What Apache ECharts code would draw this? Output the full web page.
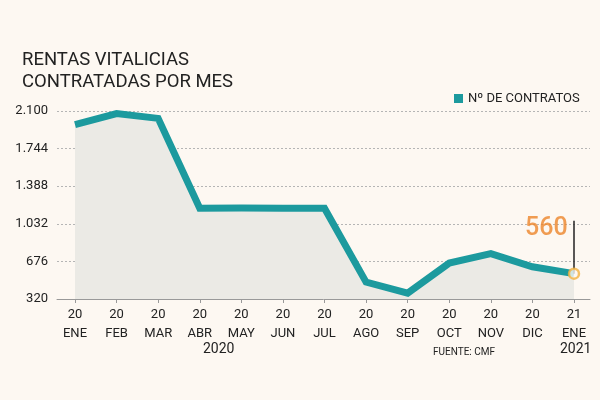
<!DOCTYPE html>
<html>
<head>
<meta charset="utf-8">
<script src="https://cdn.jsdelivr.net/npm/echarts@6/dist/echarts.min.js"></script>
<style>
  html, body { margin: 0; padding: 0; background: #fdf8f2; }
  #main { width: 600px; height: 400px; }
</style>
</head>
<body>
<div id="main"></div>
<script>
// datos
const years = ['20', '20', '20', '20', '20', '20', '20', '20', '20', '20', '20', '20', '21'];
const months = ['ENE', 'FEB', 'MAR', 'ABR', 'MAY', 'JUN', 'JUL', 'AGO', 'SEP', 'OCT', 'NOV', 'DIC', 'ENE'];
const contratos = [1970, 2075, 2030, 1180, 1182, 1180, 1180, 480, 375, 660, 750, 625, 560];
const yTicks = [320, 676, 1032, 1388, 1744, 2100];

const font = "Roboto, 'Liberation Sans', sans-serif";
const teal = '#1c9a9e';

let myChart = echarts.init(document.getElementById('main'));

const lastIdx = contratos.length - 1;
const lineData = contratos.map((v, i) => [i, v]);

let option = {
  backgroundColor: '#fdf8f2',
  textStyle: { fontFamily: font },
  title: {
    text: 'RENTAS VITALICIAS\nCONTRATADAS POR MES',
    left: 17,
    top: 44,
    textStyle: { fontFamily: font, fontSize: 18.5, fontWeight: 'normal', color: '#222', lineHeight: 22 }
  },
  legend: {
    data: ['Nº DE CONTRATOS'],
    left: 449,
    top: 87,
    icon: 'rect',
    itemWidth: 9,
    itemHeight: 9,
    itemGap: 6,
    textStyle: { fontFamily: font, fontSize: 13, color: '#222' }
  },
  grid: { left: 57, right: 10, top: 111, bottom: 101 },
  xAxis: {
    type: 'value',
    min: -0.433,
    max: 12.385,
    splitLine: { show: false },
    axisLine: { lineStyle: { color: '#999', width: 1 } },
    axisTick: { customValues: years.map((y, i) => i), length: 4, lineStyle: { color: '#999' } },
    axisLabel: {
      customValues: years.map((y, i) => i),
      formatter: v => years[v] + '\n' + months[v],
      fontFamily: font, fontSize: 13, color: '#222', lineHeight: 19, margin: 6
    }
  },
  yAxis: {
    type: 'value',
    min: yTicks[0],
    max: yTicks[yTicks.length - 1],
    interval: yTicks[1] - yTicks[0],
    axisLine: { show: false },
    axisTick: { show: false },
    splitLine: { lineStyle: { color: '#b5b5b5', type: [2, 2], width: 1 } },
    axisLabel: {
      formatter: v => v.toLocaleString('de-DE'),
      fontFamily: font, fontSize: 13, color: '#222', margin: 9
    }
  },
  graphic: [
    { type: 'text', left: 203, top: 342, style: { text: '2020', font: '14px ' + font, fill: '#222' } },
    { type: 'text', left: 560, top: 342, style: { text: '2021', font: '14px ' + font, fill: '#222' } },
    { type: 'text', left: 433, top: 347, style: { text: 'FUENTE: CMF', font: '10px ' + font, fill: '#222' } }
  ],
  series: [
    {
      name: 'Nº DE CONTRATOS',
      type: 'line',
      data: lineData,
      showSymbol: false,
      itemStyle: { color: teal },
      lineStyle: { color: teal, width: 7, join: 'miter' },
      areaStyle: { color: '#ebeae5', opacity: 1, origin: 'start' },
      z: 2
    },
    {
      // ultimo punto con etiqueta
      type: 'scatter',
      data: [[lastIdx, contratos[lastIdx]]],
      symbol: 'circle',
      symbolSize: 10,
      itemStyle: { color: '#fdf8f2', borderColor: '#f2b23e', borderWidth: 2.5 },
      label: {
        show: true,
        position: 'left',
        distance: 0,
        offset: [0, -45],
        formatter: p => p.value[1],
        fontFamily: font,
        fontSize: 25,
        fontWeight: 500,
        color: '#ec8429'
      },
      markLine: {
        silent: true,
        symbol: 'none',
        label: { show: false },
        lineStyle: { color: '#222', width: 1.5, type: 'solid' },
        data: [[{ coord: [lastIdx, contratos[lastIdx]] }, { coord: [lastIdx, 1060] }]]
      },
      z: 5
    }
  ]
};

myChart.setOption(option);
</script>
</body>
</html>
